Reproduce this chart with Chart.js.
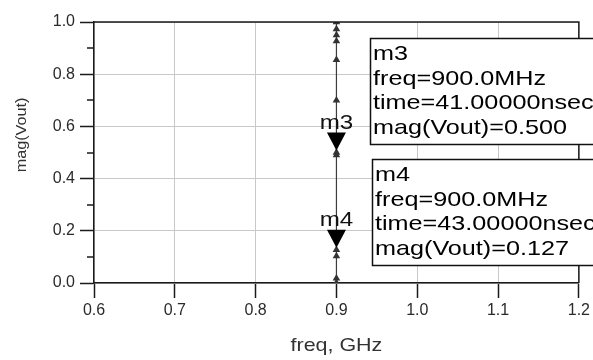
<!DOCTYPE html>
<html>
<head>
<meta charset="utf-8">
<title>mag(Vout) vs freq</title>
<script src="https://cdn.jsdelivr.net/npm/chart.js@4/dist/chart.umd.min.js"></script>
<style>
  html, body { margin: 0; padding: 0; background: #fff; }
  canvas { display: block; background: #fff; }
</style>
</head>
<body>
<canvas id="c" width="593" height="360"></canvas>
<script>
// Trace: mag(Vout) samples at a single frequency (GHz)
const traceFreqGHz = 0.9;
const magValues = [0.0, 0.018, 0.103, 0.127, 0.49, 0.5, 0.70, 0.855, 0.927, 0.95, 0.973, 1.0];

// Markers and their readouts
const markerNames = ['m3', 'm4'];
const markerFreqMHz = [900.0, 900.0];
const markerTimeNs = [41.0, 43.0];
const markerMag = [0.500, 0.127];

// Axis ticks
const xTickValues = [0.6, 0.7, 0.8, 0.9, 1.0, 1.1, 1.2];
const yTickValues = [0.0, 0.2, 0.4, 0.6, 0.8, 1.0];
const yMinorTickValues = [0.1, 0.3, 0.5, 0.7, 0.9];

const FONT = '"Liberation Sans", Arial, sans-serif';
const points = magValues.map(v => ({ x: traceFreqGHz, y: v }));

// Text drawn with a horizontal stretch factor
function wideText(ctx, text, x, y, sx, align) {
  ctx.save();
  ctx.translate(x, y);
  ctx.scale(sx, 1);
  ctx.textAlign = align;
  ctx.fillText(text, 0, 0);
  ctx.restore();
}

// Full frame around the plot area plus minor ticks on the y axis
const framePlugin = {
  id: 'frame',
  afterDatasetsDraw(chart) {
    const { ctx, chartArea: a, scales } = chart;
    ctx.save();
    ctx.strokeStyle = '#1a1a1a';
    ctx.lineWidth = 1.5;
    ctx.beginPath();
    ctx.moveTo(a.left, a.top);
    ctx.lineTo(a.right, a.top);
    ctx.lineTo(a.right, a.bottom);
    ctx.stroke();
    ctx.beginPath();
    yMinorTickValues.forEach(v => {
      const y = Math.round(scales.y.getPixelForValue(v));
      ctx.moveTo(a.left - 7, y);
      ctx.lineTo(a.left, y);
    });
    ctx.stroke();
    ctx.restore();
  }
};

// Marker triangles, their names, and the readout boxes
const markerPlugin = {
  id: 'markers',
  afterDraw(chart) {
    const { ctx, scales } = chart;
    const boxes = [{ left: 370, top: 38 }, { left: 372, top: 159 }];
    ctx.save();
    ctx.textBaseline = 'alphabetic';
    markerNames.forEach((name, i) => {
      const x = scales.x.getPixelForValue(markerFreqMHz[i] / 1000);
      const y = scales.y.getPixelForValue(markerMag[i]);
      // downward triangle pointing at the marked sample
      ctx.fillStyle = '#000';
      ctx.beginPath();
      ctx.moveTo(x, y - 2);
      ctx.lineTo(x - 9.5, y - 20);
      ctx.lineTo(x + 9.5, y - 20);
      ctx.closePath();
      ctx.fill();
      // marker name above the triangle
      ctx.font = '21px ' + FONT;
      ctx.fillStyle = '#111';
      wideText(ctx, name, x, y - 24, 1.15, 'center');

      // readout box
      const b = boxes[i];
      ctx.fillStyle = '#fff';
      ctx.fillRect(b.left, b.top, 260, 106);
      ctx.strokeStyle = '#111';
      ctx.lineWidth = 1.5;
      ctx.strokeRect(b.left + 0.5, b.top + 0.5, 260, 106);
      const lines = [
        name,
        'freq=' + markerFreqMHz[i].toFixed(1) + 'MHz',
        'time=' + markerTimeNs[i].toFixed(5) + 'nsec',
        'mag(Vout)=' + markerMag[i].toFixed(3)
      ];
      ctx.font = '21px ' + FONT;
      ctx.fillStyle = '#000';
      lines.forEach((t, k) => wideText(ctx, t, b.left + 3, b.top + 22 + k * 24.5, 1.2, 'left'));
    });
    ctx.restore();
  }
};

// Axis titles
const titlePlugin = {
  id: 'titles',
  afterDraw(chart) {
    const { ctx, chartArea: a } = chart;
    ctx.save();
    ctx.fillStyle = '#333';
    ctx.textBaseline = 'alphabetic';
    ctx.font = '18.5px ' + FONT;
    wideText(ctx, 'freq, GHz', (a.left + a.right) / 2, 351, 1.16, 'center');
    ctx.translate(26, 135);
    ctx.rotate(-Math.PI / 2);
    ctx.font = '15px ' + FONT;
    wideText(ctx, 'mag(Vout)', 0, 0, 1.08, 'center');
    ctx.restore();
  }
};

new Chart(document.getElementById('c'), {
  type: 'scatter',
  data: {
    datasets: [{
      data: points,
      showLine: true,
      clip: 0,
      borderColor: '#3c3c3c',
      borderWidth: 1.2,
      pointStyle: 'triangle',
      pointRadius: 4.4,
      pointBackgroundColor: '#333',
      pointBorderColor: '#333',
      pointBorderWidth: 0
    }]
  },
  options: {
    responsive: false,
    animation: false,
    devicePixelRatio: 1,
    layout: { padding: { top: 22, right: 11, left: 0, bottom: 0 } },
    plugins: { legend: { display: false }, tooltip: { enabled: false } },
    scales: {
      x: {
        type: 'linear',
        min: 0.6,
        max: 1.2,
        afterBuildTicks: s => { s.ticks = xTickValues.map(v => ({ value: v })); },
        afterFit: s => { s.height = 77; },
        ticks: {
          callback: v => Number(v).toFixed(1),
          font: { family: FONT, size: 16 },
          color: '#2a2a2a',
          padding: 3,
          maxRotation: 0
        },
        grid: { color: '#c8c8c8', lineWidth: 1, tickColor: '#1a1a1a', tickLength: 15, tickWidth: 1.5 },
        border: { color: '#1a1a1a', width: 1.5 }
      },
      y: {
        type: 'linear',
        min: 0,
        max: 1,
        afterBuildTicks: s => { s.ticks = yTickValues.map(v => ({ value: v })); },
        afterFit: s => { s.width = 94; },
        ticks: {
          callback: v => Number(v).toFixed(1),
          font: { family: FONT, size: 16 },
          color: '#2a2a2a',
          padding: 5
        },
        grid: { color: '#c8c8c8', lineWidth: 1, tickColor: '#1a1a1a', tickLength: 14, tickWidth: 1.5 },
        border: { color: '#1a1a1a', width: 1.5 }
      }
    }
  },
  plugins: [framePlugin, markerPlugin, titlePlugin]
});
</script>
</body>
</html>
